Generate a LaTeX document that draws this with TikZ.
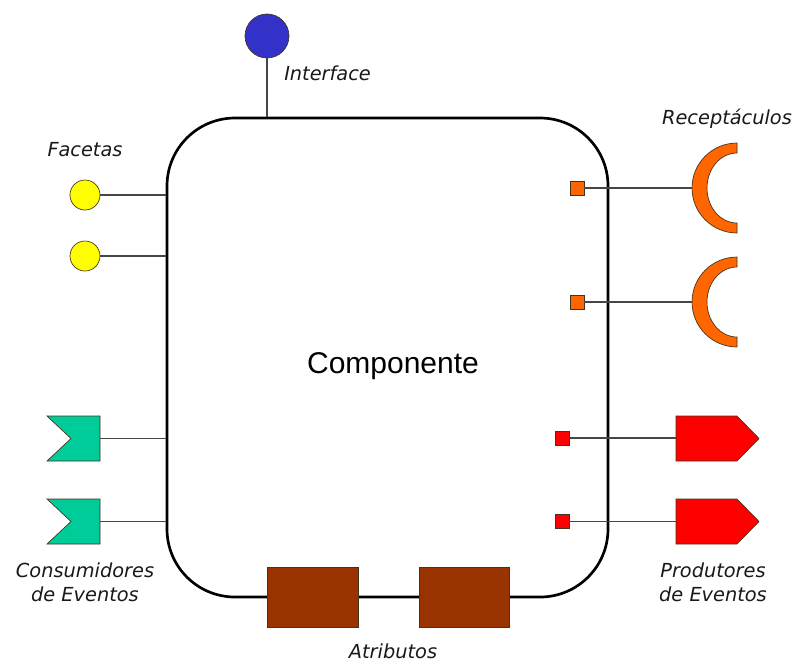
\documentclass[tikz,border=0pt]{standalone}
\usepackage{fontspec}
\setmainfont{Liberation Sans}
\newfontfamily\lblfont{DejaVu Sans}
\definecolor{ifblue}{RGB}{50,50,200}
\definecolor{facyellow}{RGB}{255,255,0}
\definecolor{conteal}{RGB}{0,204,153}
\definecolor{recorange}{RGB}{255,102,0}
\definecolor{prodred}{RGB}{255,0,0}
\definecolor{attrbrown}{RGB}{153,51,0}
\definecolor{outl}{RGB}{70,50,30}
\definecolor{connc}{RGB}{70,70,70}
\begin{document}
\begin{tikzpicture}[x=0.75pt,y=-0.75pt,
  conn/.style={draw=connc, line width=0.8pt},
  lbl/.style={font=\lblfont\itshape\fontsize{14.5}{18}\selectfont, text=black!90, inner sep=0pt, align=center},
  shp/.style={draw=outl, line width=0.5pt},
  sq/.style={shp, rectangle, minimum size=10.5pt, inner sep=0pt},
  dot/.style={shp, circle, inner sep=0pt},
  attr/.style={shp, rectangle, fill=attrbrown, minimum height=45pt, inner sep=0pt}]
\fill[white] (0,0) rectangle (795,662);
\useasboundingbox (0,0) rectangle (795,662);
% component
\node[draw=black, line width=2pt, rounded corners=51pt, minimum width=330.75pt, minimum height=359.25pt, inner sep=0pt] (box) at (387.5,357.5) {};
\node[font=\fontsize{22.5}{27}\selectfont] (comp) at (393,366) {Componente};
% interface
\node[dot, fill=ifblue, minimum size=33pt] (ifc) at (267,36) {};
\draw[conn] (ifc.south) -- (ifc.south |- box.north);
\node[lbl, anchor=west] (ifl) at (284,73) {Interface};
% facets
\node[lbl] (facl) at (85,150) {Facetas};
\node[dot, fill=facyellow, minimum size=22.5pt] (fa1) at (85,195) {};
\node[dot, fill=facyellow, minimum size=22.5pt] (fa2) at (85,256) {};
\draw[conn] (fa1.east) -- (fa1.east -| box.west);
\draw[conn] (fa2.east) -- (fa2.east -| box.west);
% consumers
\filldraw[shp, fill=conteal] (47,416) -- (100,416) -- (100,461) -- (47,461) -- (71,438.5) -- cycle;
\filldraw[shp, fill=conteal] (47,499) -- (100,499) -- (100,544) -- (47,544) -- (71,521.5) -- cycle;
\coordinate (c1) at (100,438.5);
\coordinate (c2) at (100,521.5);
\draw[conn] (c1) -- (c1 -| box.west);
\draw[conn] (c2) -- (c2 -| box.west);
\node[lbl] (conl) at (85,582) {Consumidores\\de Eventos};
% receptacles
\node[lbl] (recl) at (727,119) {Recept\'aculos};
\node[sq, fill=recorange] (rs1) at (577,188) {};
\node[sq, fill=recorange] (rs2) at (577,302) {};
\filldraw[shp, fill=recorange] (737,143) arc[start angle=90, end angle=270, radius=33.75pt] -- (737,223) arc[start angle=270, end angle=90, x radius=22.5pt, y radius=26.25pt] -- cycle;
\filldraw[shp, fill=recorange] (737,257) arc[start angle=90, end angle=270, radius=33.75pt] -- (737,337) arc[start angle=270, end angle=90, x radius=22.5pt, y radius=26.25pt] -- cycle;
\coordinate (r1) at (692,188);
\coordinate (r2) at (692,302);
\draw[conn] (rs1.east) -- (r1);
\draw[conn] (rs2.east) -- (r2);
% producers
\node[sq, fill=prodred] (ps1) at (562,438) {};
\node[sq, fill=prodred] (ps2) at (562,521.5) {};
\filldraw[shp, fill=prodred] (676,416) -- (737,416) -- (759,438.5) -- (737,461) -- (676,461) -- cycle;
\filldraw[shp, fill=prodred] (676,499) -- (737,499) -- (759,521.5) -- (737,544) -- (676,544) -- cycle;
\coordinate (p1) at (676,438);
\coordinate (p2) at (676,521.5);
\draw[conn] (ps1.east) -- (p1);
\draw[conn] (ps2.east) -- (p2);
\node[lbl] (prol) at (713,582) {Produtores\\de Eventos};
% attributes
\node[attr, minimum width=68.25pt] (at1) at (312.5,597) {};
\node[attr, minimum width=67.5pt] (at2) at (464,597) {};
\node[lbl] (atl) at (393,651) {Atributos};
\end{tikzpicture}
\end{document}
